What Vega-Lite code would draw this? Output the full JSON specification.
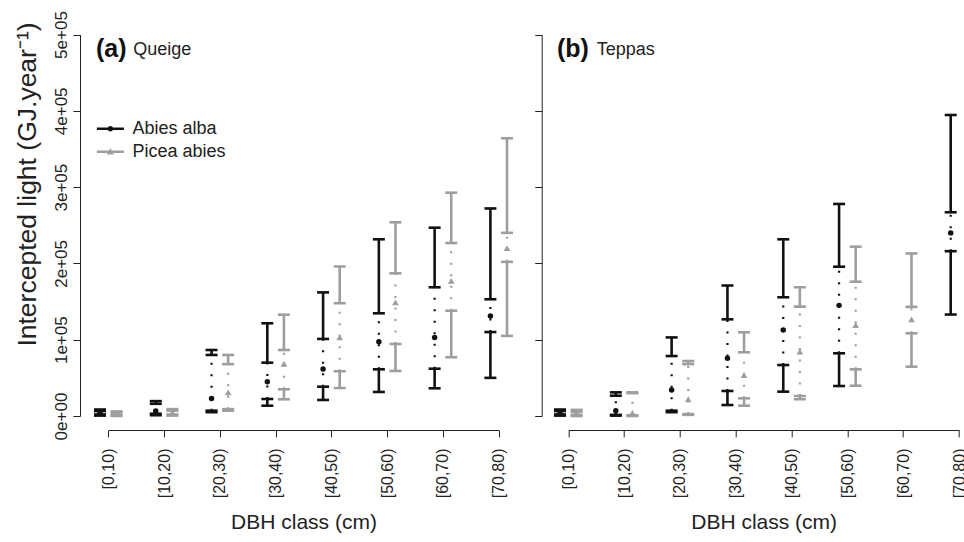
{
  "$schema": "https://vega.github.io/schema/vega-lite/v6.json",
  "padding": {"left": 14, "top": 8, "right": 0, "bottom": 0},
  "bounds": "flush",
  "spacing": 11.7,
  "config": {
    "font": "Liberation Sans",
    "view": {"stroke": null},
    "axis": {"grid": false, "domainColor": "#222222", "tickColor": "#222222", "labelColor": "#222222", "titleColor": "#222222", "labelFont": "Liberation Sans", "titleFont": "Liberation Sans", "labelFontSize": 16, "titleFontSize": 21, "titleFontWeight": "normal", "tickSize": 7, "domainWidth": 1, "tickWidth": 1},
    "legend": {"title": null, "orient": "none", "legendX": 20.4, "legendY": 110.8, "labelFont": "Liberation Sans", "labelFontSize": 18, "labelColor": "#222222", "symbolSize": 400, "labelOffset": 12, "rowPadding": 4, "padding": 0, "symbolStrokeWidth": 0}
  },
  "datasets": {
    "light": [
      {"site": "Queige", "dbh": "[0,10)", "species": "Abies alba", "lo": 500, "lo2": 2000, "mean": 4000, "hi1": 6500, "hi2": 8500},
      {"site": "Queige", "dbh": "[0,10)", "species": "Picea abies", "lo": 0, "lo2": 1500, "mean": 3000, "hi1": 4500, "hi2": 6000},
      {"site": "Queige", "dbh": "[10,20)", "species": "Abies alba", "lo": 1000, "lo2": 3000, "mean": 6500, "hi1": 16000, "hi2": 19500},
      {"site": "Queige", "dbh": "[10,20)", "species": "Picea abies", "lo": 500, "lo2": 2000, "mean": 4500, "hi1": 7000, "hi2": 9000},
      {"site": "Queige", "dbh": "[20,30)", "species": "Abies alba", "lo": 5000, "lo2": 7000, "mean": 23000, "hi1": 80000, "hi2": 86500},
      {"site": "Queige", "dbh": "[20,30)", "species": "Picea abies", "lo": 7000, "lo2": 9000, "mean": 31000, "hi1": 68000, "hi2": 80000},
      {"site": "Queige", "dbh": "[30,40)", "species": "Abies alba", "lo": 13500, "lo2": 22300, "mean": 45000, "hi1": 69900, "hi2": 121500},
      {"site": "Queige", "dbh": "[30,40)", "species": "Picea abies", "lo": 21900, "lo2": 35000, "mean": 68500, "hi1": 86500, "hi2": 132800},
      {"site": "Queige", "dbh": "[40,50)", "species": "Abies alba", "lo": 21000, "lo2": 38400, "mean": 61600, "hi1": 101000, "hi2": 162000},
      {"site": "Queige", "dbh": "[40,50)", "species": "Picea abies", "lo": 36700, "lo2": 58600, "mean": 103000, "hi1": 147700, "hi2": 196000},
      {"site": "Queige", "dbh": "[50,60)", "species": "Abies alba", "lo": 31500, "lo2": 61200, "mean": 97400, "hi1": 134600, "hi2": 231600},
      {"site": "Queige", "dbh": "[50,60)", "species": "Picea abies", "lo": 59000, "lo2": 94400, "mean": 149000, "hi1": 187000, "hi2": 253900},
      {"site": "Queige", "dbh": "[60,70)", "species": "Abies alba", "lo": 36300, "lo2": 62000, "mean": 103000, "hi1": 168700, "hi2": 246800},
      {"site": "Queige", "dbh": "[60,70)", "species": "Picea abies", "lo": 77000, "lo2": 138000, "mean": 177000, "hi1": 226700, "hi2": 292700},
      {"site": "Queige", "dbh": "[70,80)", "species": "Abies alba", "lo": 50000, "lo2": 110000, "mean": 131000, "hi1": 153000, "hi2": 272000},
      {"site": "Queige", "dbh": "[70,80)", "species": "Picea abies", "lo": 105000, "lo2": 202000, "mean": 220000, "hi1": 240000, "hi2": 364000},
      {"site": "Teppas", "dbh": "[0,10)", "species": "Abies alba", "lo": 500, "lo2": 2000, "mean": 4000, "hi1": 6500, "hi2": 8500},
      {"site": "Teppas", "dbh": "[0,10)", "species": "Picea abies", "lo": 0, "lo2": 1500, "mean": 3500, "hi1": 5500, "hi2": 8000},
      {"site": "Teppas", "dbh": "[10,20)", "species": "Abies alba", "lo": 500, "lo2": 1500, "mean": 7000, "hi1": 26600, "hi2": 31000},
      {"site": "Teppas", "dbh": "[10,20)", "species": "Picea abies", "lo": 0, "lo2": 1000, "mean": 4000, "hi1": 30000, "hi2": 31000},
      {"site": "Teppas", "dbh": "[20,30)", "species": "Abies alba", "lo": 5000, "lo2": 7000, "mean": 34000, "hi1": 78600, "hi2": 103000},
      {"site": "Teppas", "dbh": "[20,30)", "species": "Picea abies", "lo": 1500, "lo2": 2500, "mean": 22000, "hi1": 68000, "hi2": 72000},
      {"site": "Teppas", "dbh": "[30,40)", "species": "Abies alba", "lo": 14400, "lo2": 32800, "mean": 75600, "hi1": 126700, "hi2": 171000},
      {"site": "Teppas", "dbh": "[30,40)", "species": "Picea abies", "lo": 13500, "lo2": 23200, "mean": 53700, "hi1": 83500, "hi2": 109700},
      {"site": "Teppas", "dbh": "[40,50)", "species": "Abies alba", "lo": 31900, "lo2": 66800, "mean": 112700, "hi1": 155600, "hi2": 231600},
      {"site": "Teppas", "dbh": "[40,50)", "species": "Picea abies", "lo": 21900, "lo2": 26200, "mean": 84300, "hi1": 143300, "hi2": 168700},
      {"site": "Teppas", "dbh": "[50,60)", "species": "Abies alba", "lo": 39300, "lo2": 82200, "mean": 145000, "hi1": 195700, "hi2": 277900},
      {"site": "Teppas", "dbh": "[50,60)", "species": "Picea abies", "lo": 39700, "lo2": 61200, "mean": 119300, "hi1": 176000, "hi2": 221900},
      {"site": "Teppas", "dbh": "[60,70)", "species": "Picea abies", "lo": 64600, "lo2": 108400, "mean": 126700, "hi1": 143000, "hi2": 213000},
      {"site": "Teppas", "dbh": "[70,80)", "species": "Abies alba", "lo": 133000, "lo2": 216000, "mean": 240000, "hi1": 267000, "hi2": 394500}
    ]
  },
  "hconcat": [
    {
      "width": 450,
      "height": 422,
      "layer": [
        {
          "data": {"name": "light"},
          "transform": [{"filter": "datum.site == 'Queige'"}],
          "mark": {"type": "rule", "strokeWidth": 2.6},
          "encoding": {
            "x": {"field": "dbh", "type": "ordinal", "scale": {"type": "point", "domain": ["[0,10)", "[10,20)", "[20,30)", "[30,40)", "[40,50)", "[50,60)", "[60,70)", "[70,80)"], "range": [28.3, 418.7], "padding": 0}, "axis": {"title": "DBH class (cm)", "labelAngle": -90, "labelPadding": 11, "titlePadding": 14}},
            "xOffset": {"field": "species", "type": "nominal", "scale": {"type": "point", "domain": ["Abies alba", "Picea abies"], "range": [-8.3, 8.3], "padding": 0}},
            "y": {"field": "lo", "type": "quantitative", "title": "Intercepted light (GJ.year⁻¹)", "scale": {"domain": [0, 500000], "range": [408, 26.5], "nice": false, "zero": false}, "axis": {"values": [0, 100000, 200000, 300000, 400000, 500000], "labelExpr": "datum.value == 0 ? '0e+00' : (datum.value / 100000) + 'e+05'", "labelAngle": -90, "labelAlign": "center", "labelBaseline": "bottom", "labelPadding": 3, "labelFontSize": 17, "titleX": -53, "titleY": 176, "titleBaseline": "middle", "titleFontSize": 26.5}},
            "y2": {"field": "lo2"},
            "color": {"field": "species", "type": "nominal", "scale": {"domain": ["Abies alba", "Picea abies"], "range": ["#111111", "#9e9e9e"]}}
          }
        },
        {
          "data": {"name": "light"},
          "transform": [{"filter": "datum.site == 'Queige'"}],
          "mark": {"type": "rule", "strokeWidth": 2.6},
          "encoding": {
            "x": {"field": "dbh", "type": "ordinal", "scale": {"type": "point", "range": [28.3, 418.7], "padding": 0}},
            "xOffset": {"field": "species", "type": "nominal", "scale": {"type": "point", "range": [-8.3, 8.3], "padding": 0}},
            "y": {"field": "hi1", "type": "quantitative", "title": "Intercepted light (GJ.year⁻¹)"},
            "y2": {"field": "hi2"},
            "color": {"field": "species", "type": "nominal"}
          }
        },
        {
          "data": {"name": "light"},
          "transform": [{"filter": "datum.site == 'Queige'"}],
          "mark": {"type": "rule", "strokeWidth": 2.2, "strokeDash": [2, 9.5]},
          "encoding": {
            "x": {"field": "dbh", "type": "ordinal", "scale": {"type": "point", "range": [28.3, 418.7], "padding": 0}},
            "xOffset": {"field": "species", "type": "nominal", "scale": {"type": "point", "range": [-8.3, 8.3], "padding": 0}},
            "y": {"field": "lo2", "type": "quantitative", "title": "Intercepted light (GJ.year⁻¹)"},
            "y2": {"field": "hi1"},
            "color": {"field": "species", "type": "nominal"}
          }
        },
        {
          "data": {"name": "light"},
          "transform": [{"filter": "datum.site == 'Queige'"}, {"fold": ["lo", "lo2", "hi1", "hi2"], "as": ["stat", "value"]}],
          "mark": {"type": "tick", "orient": "horizontal", "size": 12, "thickness": 2.6, "opacity": 1},
          "encoding": {
            "x": {"field": "dbh", "type": "ordinal", "scale": {"type": "point", "range": [28.3, 418.7], "padding": 0}},
            "xOffset": {"field": "species", "type": "nominal", "scale": {"type": "point", "range": [-8.3, 8.3], "padding": 0}},
            "y": {"field": "value", "type": "quantitative", "title": "Intercepted light (GJ.year⁻¹)"},
            "color": {"field": "species", "type": "nominal"}
          }
        },
        {
          "data": {"name": "light"},
          "transform": [{"filter": "datum.site == 'Queige' && datum.species == 'Abies alba'"}],
          "mark": {"type": "point", "filled": true, "opacity": 1, "shape": "circle", "size": 30},
          "encoding": {
            "x": {"field": "dbh", "type": "ordinal", "scale": {"type": "point", "range": [28.3, 418.7], "padding": 0}},
            "xOffset": {"field": "species", "type": "nominal", "scale": {"type": "point", "range": [-8.3, 8.3], "padding": 0}},
            "y": {"field": "mean", "type": "quantitative", "title": "Intercepted light (GJ.year⁻¹)"},
            "color": {"field": "species", "type": "nominal"}
          }
        },
        {
          "data": {"name": "light"},
          "transform": [{"filter": "datum.site == 'Queige' && datum.species == 'Picea abies'"}],
          "mark": {"type": "point", "filled": true, "opacity": 1, "shape": "triangle-up", "size": 45},
          "encoding": {
            "x": {"field": "dbh", "type": "ordinal", "scale": {"type": "point", "range": [28.3, 418.7], "padding": 0}},
            "xOffset": {"field": "species", "type": "nominal", "scale": {"type": "point", "range": [-8.3, 8.3], "padding": 0}},
            "y": {"field": "mean", "type": "quantitative", "title": "Intercepted light (GJ.year⁻¹)"},
            "color": {"field": "species", "type": "nominal"}
          }
        },
        {
          "data": {"values": [{"species": "Abies alba"}, {"species": "Picea abies"}]},
          "mark": {"type": "point", "filled": true, "opacity": 1, "clip": true},
          "encoding": {
            "x": {"datum": "[0,10)", "type": "ordinal"},
            "y": {"datum": -300000, "type": "quantitative"},
            "color": {"field": "species", "type": "nominal"},
            "shape": {"field": "species", "type": "nominal", "scale": {"domain": ["Abies alba", "Picea abies"], "range": ["M-1.35,-0.13H1.35V0.13H-1.35ZM-0.28,0A0.28,0.28 0 1,1 0.28,0A0.28,0.28 0 1,1 -0.28,0Z", "M-1.35,-0.13H1.35V0.13H-1.35ZM0,-0.36L0.36,0.26L-0.36,0.26Z"]}}
          }
        },
        {
          "data": {"values": [{"tag": "(a)"}]},
          "mark": {"type": "text", "align": "left", "baseline": "middle", "fontSize": 25, "fontWeight": "bold", "dx": -12.3, "dy": -1, "color": "#111111"},
          "encoding": {"x": {"datum": "[0,10)", "type": "ordinal"}, "y": {"datum": 480000, "type": "quantitative"}, "text": {"field": "tag"}}
        },
        {
          "data": {"values": [{"site": "Queige"}]},
          "mark": {"type": "text", "align": "left", "baseline": "middle", "fontSize": 18, "dx": 25, "dy": 0, "color": "#222222"},
          "encoding": {"x": {"datum": "[0,10)", "type": "ordinal"}, "y": {"datum": 480000, "type": "quantitative"}, "text": {"field": "site"}}
        }
      ]
    },
    {
      "width": 422,
      "height": 422,
      "layer": [
        {
          "data": {"name": "light"},
          "transform": [{"filter": "datum.site == 'Teppas'"}],
          "mark": {"type": "rule", "strokeWidth": 2.6},
          "encoding": {
            "x": {"field": "dbh", "type": "ordinal", "scale": {"type": "point", "domain": ["[0,10)", "[10,20)", "[20,30)", "[30,40)", "[40,50)", "[50,60)", "[60,70)", "[70,80)"], "range": [26.6, 417.3], "padding": 0}, "axis": {"title": "DBH class (cm)", "labelAngle": -90, "labelPadding": 11, "titlePadding": 14}},
            "xOffset": {"field": "species", "type": "nominal", "scale": {"type": "point", "domain": ["Abies alba", "Picea abies"], "range": [-8.3, 8.3], "padding": 0}},
            "y": {"field": "lo", "type": "quantitative", "title": null, "scale": {"domain": [0, 500000], "range": [408, 26.5], "nice": false, "zero": false}, "axis": {"values": [0, 100000, 200000, 300000, 400000, 500000], "labels": false, "title": null}},
            "y2": {"field": "lo2"},
            "color": {"field": "species", "type": "nominal"}
          }
        },
        {
          "data": {"name": "light"},
          "transform": [{"filter": "datum.site == 'Teppas'"}],
          "mark": {"type": "rule", "strokeWidth": 2.6},
          "encoding": {
            "x": {"field": "dbh", "type": "ordinal", "scale": {"type": "point", "range": [26.6, 417.3], "padding": 0}},
            "xOffset": {"field": "species", "type": "nominal", "scale": {"type": "point", "range": [-8.3, 8.3], "padding": 0}},
            "y": {"field": "hi1", "type": "quantitative", "title": null},
            "y2": {"field": "hi2"},
            "color": {"field": "species", "type": "nominal"}
          }
        },
        {
          "data": {"name": "light"},
          "transform": [{"filter": "datum.site == 'Teppas'"}],
          "mark": {"type": "rule", "strokeWidth": 2.2, "strokeDash": [2, 9.5]},
          "encoding": {
            "x": {"field": "dbh", "type": "ordinal", "scale": {"type": "point", "range": [26.6, 417.3], "padding": 0}},
            "xOffset": {"field": "species", "type": "nominal", "scale": {"type": "point", "range": [-8.3, 8.3], "padding": 0}},
            "y": {"field": "lo2", "type": "quantitative", "title": null},
            "y2": {"field": "hi1"},
            "color": {"field": "species", "type": "nominal"}
          }
        },
        {
          "data": {"name": "light"},
          "transform": [{"filter": "datum.site == 'Teppas'"}, {"fold": ["lo", "lo2", "hi1", "hi2"], "as": ["stat", "value"]}],
          "mark": {"type": "tick", "orient": "horizontal", "size": 12, "thickness": 2.6, "opacity": 1},
          "encoding": {
            "x": {"field": "dbh", "type": "ordinal", "scale": {"type": "point", "range": [26.6, 417.3], "padding": 0}},
            "xOffset": {"field": "species", "type": "nominal", "scale": {"type": "point", "range": [-8.3, 8.3], "padding": 0}},
            "y": {"field": "value", "type": "quantitative", "title": null},
            "color": {"field": "species", "type": "nominal"}
          }
        },
        {
          "data": {"name": "light"},
          "transform": [{"filter": "datum.site == 'Teppas' && datum.species == 'Abies alba'"}],
          "mark": {"type": "point", "filled": true, "opacity": 1, "shape": "circle", "size": 30},
          "encoding": {
            "x": {"field": "dbh", "type": "ordinal", "scale": {"type": "point", "range": [26.6, 417.3], "padding": 0}},
            "xOffset": {"field": "species", "type": "nominal", "scale": {"type": "point", "range": [-8.3, 8.3], "padding": 0}},
            "y": {"field": "mean", "type": "quantitative", "title": null},
            "color": {"field": "species", "type": "nominal"}
          }
        },
        {
          "data": {"name": "light"},
          "transform": [{"filter": "datum.site == 'Teppas' && datum.species == 'Picea abies'"}],
          "mark": {"type": "point", "filled": true, "opacity": 1, "shape": "triangle-up", "size": 45},
          "encoding": {
            "x": {"field": "dbh", "type": "ordinal", "scale": {"type": "point", "range": [26.6, 417.3], "padding": 0}},
            "xOffset": {"field": "species", "type": "nominal", "scale": {"type": "point", "range": [-8.3, 8.3], "padding": 0}},
            "y": {"field": "mean", "type": "quantitative", "title": null},
            "color": {"field": "species", "type": "nominal"}
          }
        },
        {
          "data": {"values": [{"tag": "(b)"}]},
          "mark": {"type": "text", "align": "left", "baseline": "middle", "fontSize": 25, "fontWeight": "bold", "dx": -11.3, "dy": -1, "color": "#111111"},
          "encoding": {"x": {"datum": "[0,10)", "type": "ordinal"}, "y": {"datum": 480000, "type": "quantitative"}, "text": {"field": "tag"}}
        },
        {
          "data": {"values": [{"site": "Teppas"}]},
          "mark": {"type": "text", "align": "left", "baseline": "middle", "fontSize": 18, "dx": 28.4, "dy": 0, "color": "#222222"},
          "encoding": {"x": {"datum": "[0,10)", "type": "ordinal"}, "y": {"datum": 480000, "type": "quantitative"}, "text": {"field": "site"}}
        }
      ]
    }
  ]
}
